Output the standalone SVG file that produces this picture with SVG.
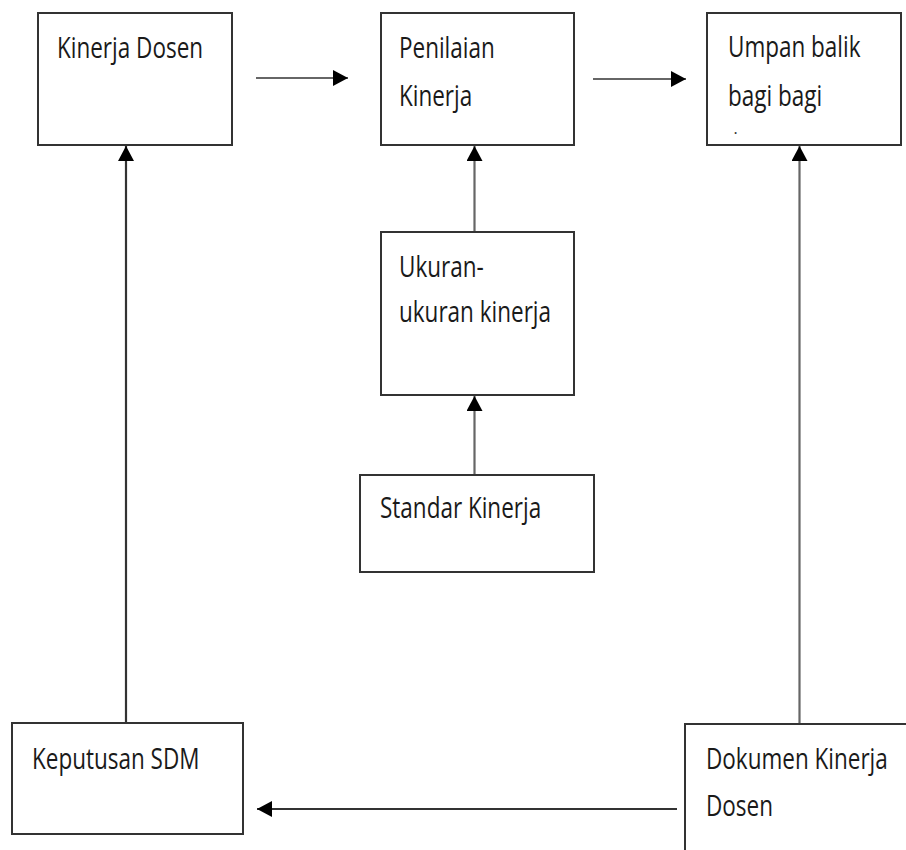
<svg xmlns="http://www.w3.org/2000/svg" width="906" height="850" viewBox="0 0 906 850">
<defs>
<marker id="ah" viewBox="0 0 15 16" refX="15" refY="8" markerWidth="15" markerHeight="16" markerUnits="userSpaceOnUse" orient="auto">
<path d="M0,0 L15,8 L0,16 Z" fill="#000"/>
</marker>
</defs>
<style>
.box{fill:#fff;stroke:#333;stroke-width:2}
.lbl{font-family:"Open Sans","Noto Sans",sans-serif;font-size:22.5px;fill:#1a1a1a}
.c{stroke:#666;stroke-width:2.2;fill:none;marker-end:url(#ah)}
.cd{stroke:#333;stroke-width:2.2;fill:none;marker-end:url(#ah)}
</style>
<rect width="906" height="850" fill="#fff"/>
<g id="connectors">
<line class="c" x1="256" y1="78" x2="348" y2="78"/>
<line class="c" x1="593" y1="79" x2="686" y2="79"/>
<line class="c" x1="474.5" y1="232" x2="474.5" y2="146"/>
<line class="c" x1="474.5" y1="475" x2="474.5" y2="396"/>
<line class="cd" x1="126" y1="723" x2="126" y2="146"/>
<line class="c" x1="799.5" y1="724" x2="799.5" y2="146"/>
<line class="cd" x1="677" y1="809" x2="257" y2="809"/>
</g>
<g id="kinerja-dosen">
<rect class="box" x="38" y="13" width="194" height="132"/>
<g transform="translate(57,58) scale(1,1.27)"><text class="lbl" x="0" y="0">Kinerja Dosen</text></g>
</g>
<g id="penilaian-kinerja">
<rect class="box" x="381" y="13" width="193" height="132"/>
<g transform="translate(399,58) scale(1,1.27)"><text class="lbl" x="0" y="0">Penilaian</text></g>
<g transform="translate(399,106) scale(1,1.27)"><text class="lbl" x="0" y="0">Kinerja</text></g>
</g>
<g id="umpan-balik">
<rect class="box" x="707" y="13" width="194" height="132"/>
<g transform="translate(728,57) scale(1,1.27)"><text class="lbl" x="0" y="0">Umpan balik</text></g>
<g transform="translate(728,106) scale(1,1.27)"><text class="lbl" x="0" y="0">bagi bagi</text></g>
<text x="733.5" y="134" style="font-family:'Open Sans',sans-serif;font-size:16px;fill:#333">.</text>
</g>
<g id="ukuran-kinerja">
<rect class="box" x="381" y="232" width="193" height="163"/>
<g transform="translate(399,277) scale(1,1.27)"><text class="lbl" x="0" y="0">Ukuran-</text></g>
<g transform="translate(399,322) scale(1,1.27)"><text class="lbl" x="0" y="0">ukuran kinerja</text></g>
</g>
<g id="standar-kinerja">
<rect class="box" x="360" y="475" width="234" height="97"/>
<g transform="translate(380,518) scale(1,1.27)"><text class="lbl" x="0" y="0">Standar Kinerja</text></g>
</g>
<g id="keputusan-sdm">
<rect class="box" x="12" y="723" width="231" height="111"/>
<g transform="translate(32,769) scale(1,1.27)"><text class="lbl" x="0" y="0">Keputusan SDM</text></g>
</g>
<g id="dokumen-kinerja-dosen">
<rect class="box" x="685" y="724" width="300" height="200"/>
<g transform="translate(706,769) scale(1,1.27)"><text class="lbl" x="0" y="0">Dokumen Kinerja</text></g>
<g transform="translate(706,816) scale(1,1.27)"><text class="lbl" x="0" y="0">Dosen</text></g>
</g>
</svg>
